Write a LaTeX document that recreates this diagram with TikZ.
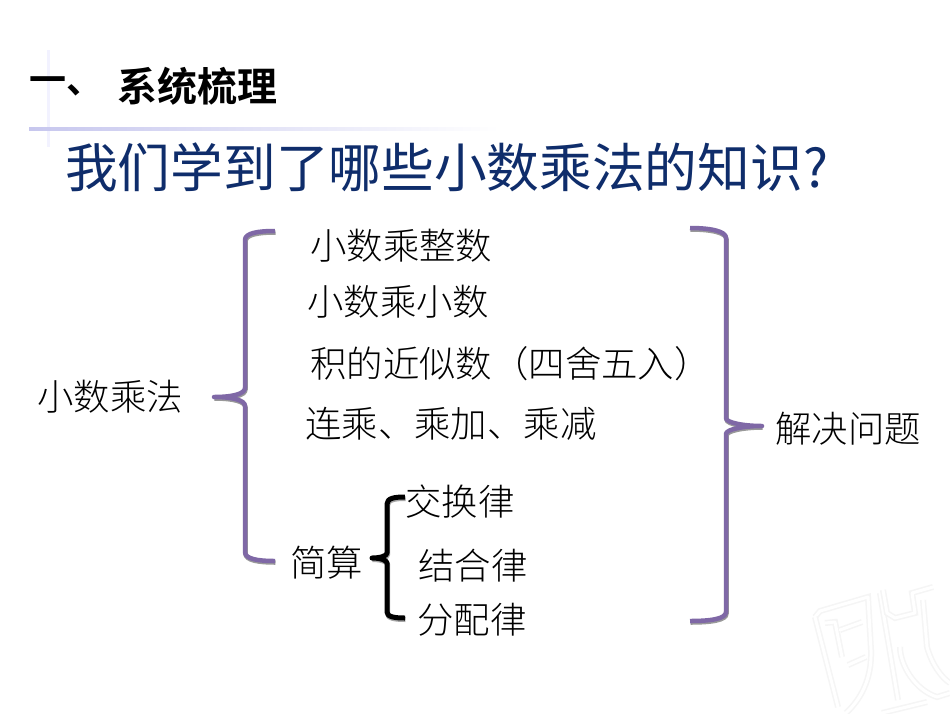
\documentclass[tikz,border=0pt]{standalone}
\usepackage{fontspec}
\newfontfamily\cjk{Noto Sans CJK SC}
\newfontfamily\cjkl{Noto Sans CJK SC Light}
\newfontfamily\cjkb{Noto Sans CJK SC Bold}
\definecolor{titleblue}{HTML}{0F2D6B}
\definecolor{bracepurple}{HTML}{7F68A6}
\definecolor{waterline}{HTML}{F5F5F5}
\tikzset{
  item/.style={anchor=west,inner sep=0pt,font=\cjkl\fontsize{36.4}{36.4}\selectfont,text=black},
  heading/.style={anchor=west,inner sep=0pt,font=\cjkb\fontsize{37}{37}\selectfont,text=black},
  title/.style={anchor=west,inner sep=0pt,font=\cjk\fontsize{52.7}{53}\selectfont,text=titleblue},
  bigbrace/.style={draw=bracepurple,line width=4.5pt,line join=round,
    preaction={draw=black!40,line width=4.5pt,transform canvas={shift={(0.5pt,-1.5pt)}}}},
  smallbrace/.style={draw=black,line width=5pt,line join=round,
    preaction={draw=black!35,line width=5pt,transform canvas={shift={(0.5pt,-1.5pt)}}}},
  water/.style={draw=white,line width=3pt,line join=round,line cap=round,
    preaction={draw=waterline,line width=6pt}}
}
\begin{document}
\begin{tikzpicture}[x=1pt,y=-1pt]
\useasboundingbox (0,0) rectangle (950,713);
\fill[white] (0,0) rectangle (950,713);
% decorative rules
\fill[blue!5!white] (47,50) rectangle (50,147);
\shade[left color=black!30!blue!22!white,right color=white] (29,127) rectangle (500,130);
% watermark
\begin{scope}
\draw[water] (815,617) -- (820,611) -- (868,597) -- (871,650) .. controls (872,680) and (860,700) .. (846,713);
\draw[water] (815,617) -- (838,707);
\draw[water] (825,623) -- (835,622) -- (842,657);
\draw[water] (840,630) -- (862,622);
\draw[water] (848,665) -- (866,657);
\draw[water] (880,593) -- (898,700);
\draw[water] (883,590) -- (887,613) -- (895,618) -- (915,613) -- (912,593) -- (933,587);
\draw[water] (923,600) -- (927,647) .. controls (932,665) and (942,678) .. (950,683);
\draw[water] (900,647) .. controls (900,665) and (915,690) .. (937,697) -- (950,693);
\draw[water] (882,713) -- (927,702);
\end{scope}
% text
\node[heading] (head1) at (29,86) {一、};
\node[heading,font=\cjkb\fontsize{40}{40}\selectfont] (head2) at (117,86) {系统梳理};
\node[title] (ttl) at (65,167) {我们学到了哪些小数乘法的知识?};
\node[item] (a) at (37,397) {小数乘法};
\node[item] (b1) at (310,246) {小数乘整数};
\node[item] (b2) at (307,302) {小数乘小数};
\node[item] (b3) at (310,364) {积的近似数（四舍五入）};
\node[item] (b4) at (305,424) {连乘、乘加、乘减};
\node[item] (b5) at (290,563) {简算};
\node[item] (c1) at (405,502) {交换律};
\node[item] (c2) at (418,566) {结合律};
\node[item] (c3) at (417,620) {分配律};
\node[item] (d) at (775,429) {解决问题};
% braces
\draw[bigbrace] (275,231) .. controls (258,231) and (245,233) .. (245,240) -- (245,388)
  .. controls (245,394) and (232,397) .. (214,397)
  .. controls (232,397) and (245,400) .. (245,406) -- (245,552)
  .. controls (245,559) and (258,561) .. (275,561);
\draw[bigbrace] (690,228) .. controls (710,228) and (726,231) .. (726,238) -- (726,418)
  .. controls (726,423) and (745,426) .. (762,426)
  .. controls (745,426) and (726,429) .. (726,434) -- (726,612)
  .. controls (726,619) and (710,621) .. (690,621);
\draw[smallbrace] (405,497) .. controls (395,497) and (387,498) .. (387,504) -- (387,553)
  .. controls (387,556) and (380,558) .. (372,558)
  .. controls (380,558) and (387,560) .. (387,563) -- (387,612)
  .. controls (387,617) and (395,618) .. (405,618);
\end{tikzpicture}
\end{document}
